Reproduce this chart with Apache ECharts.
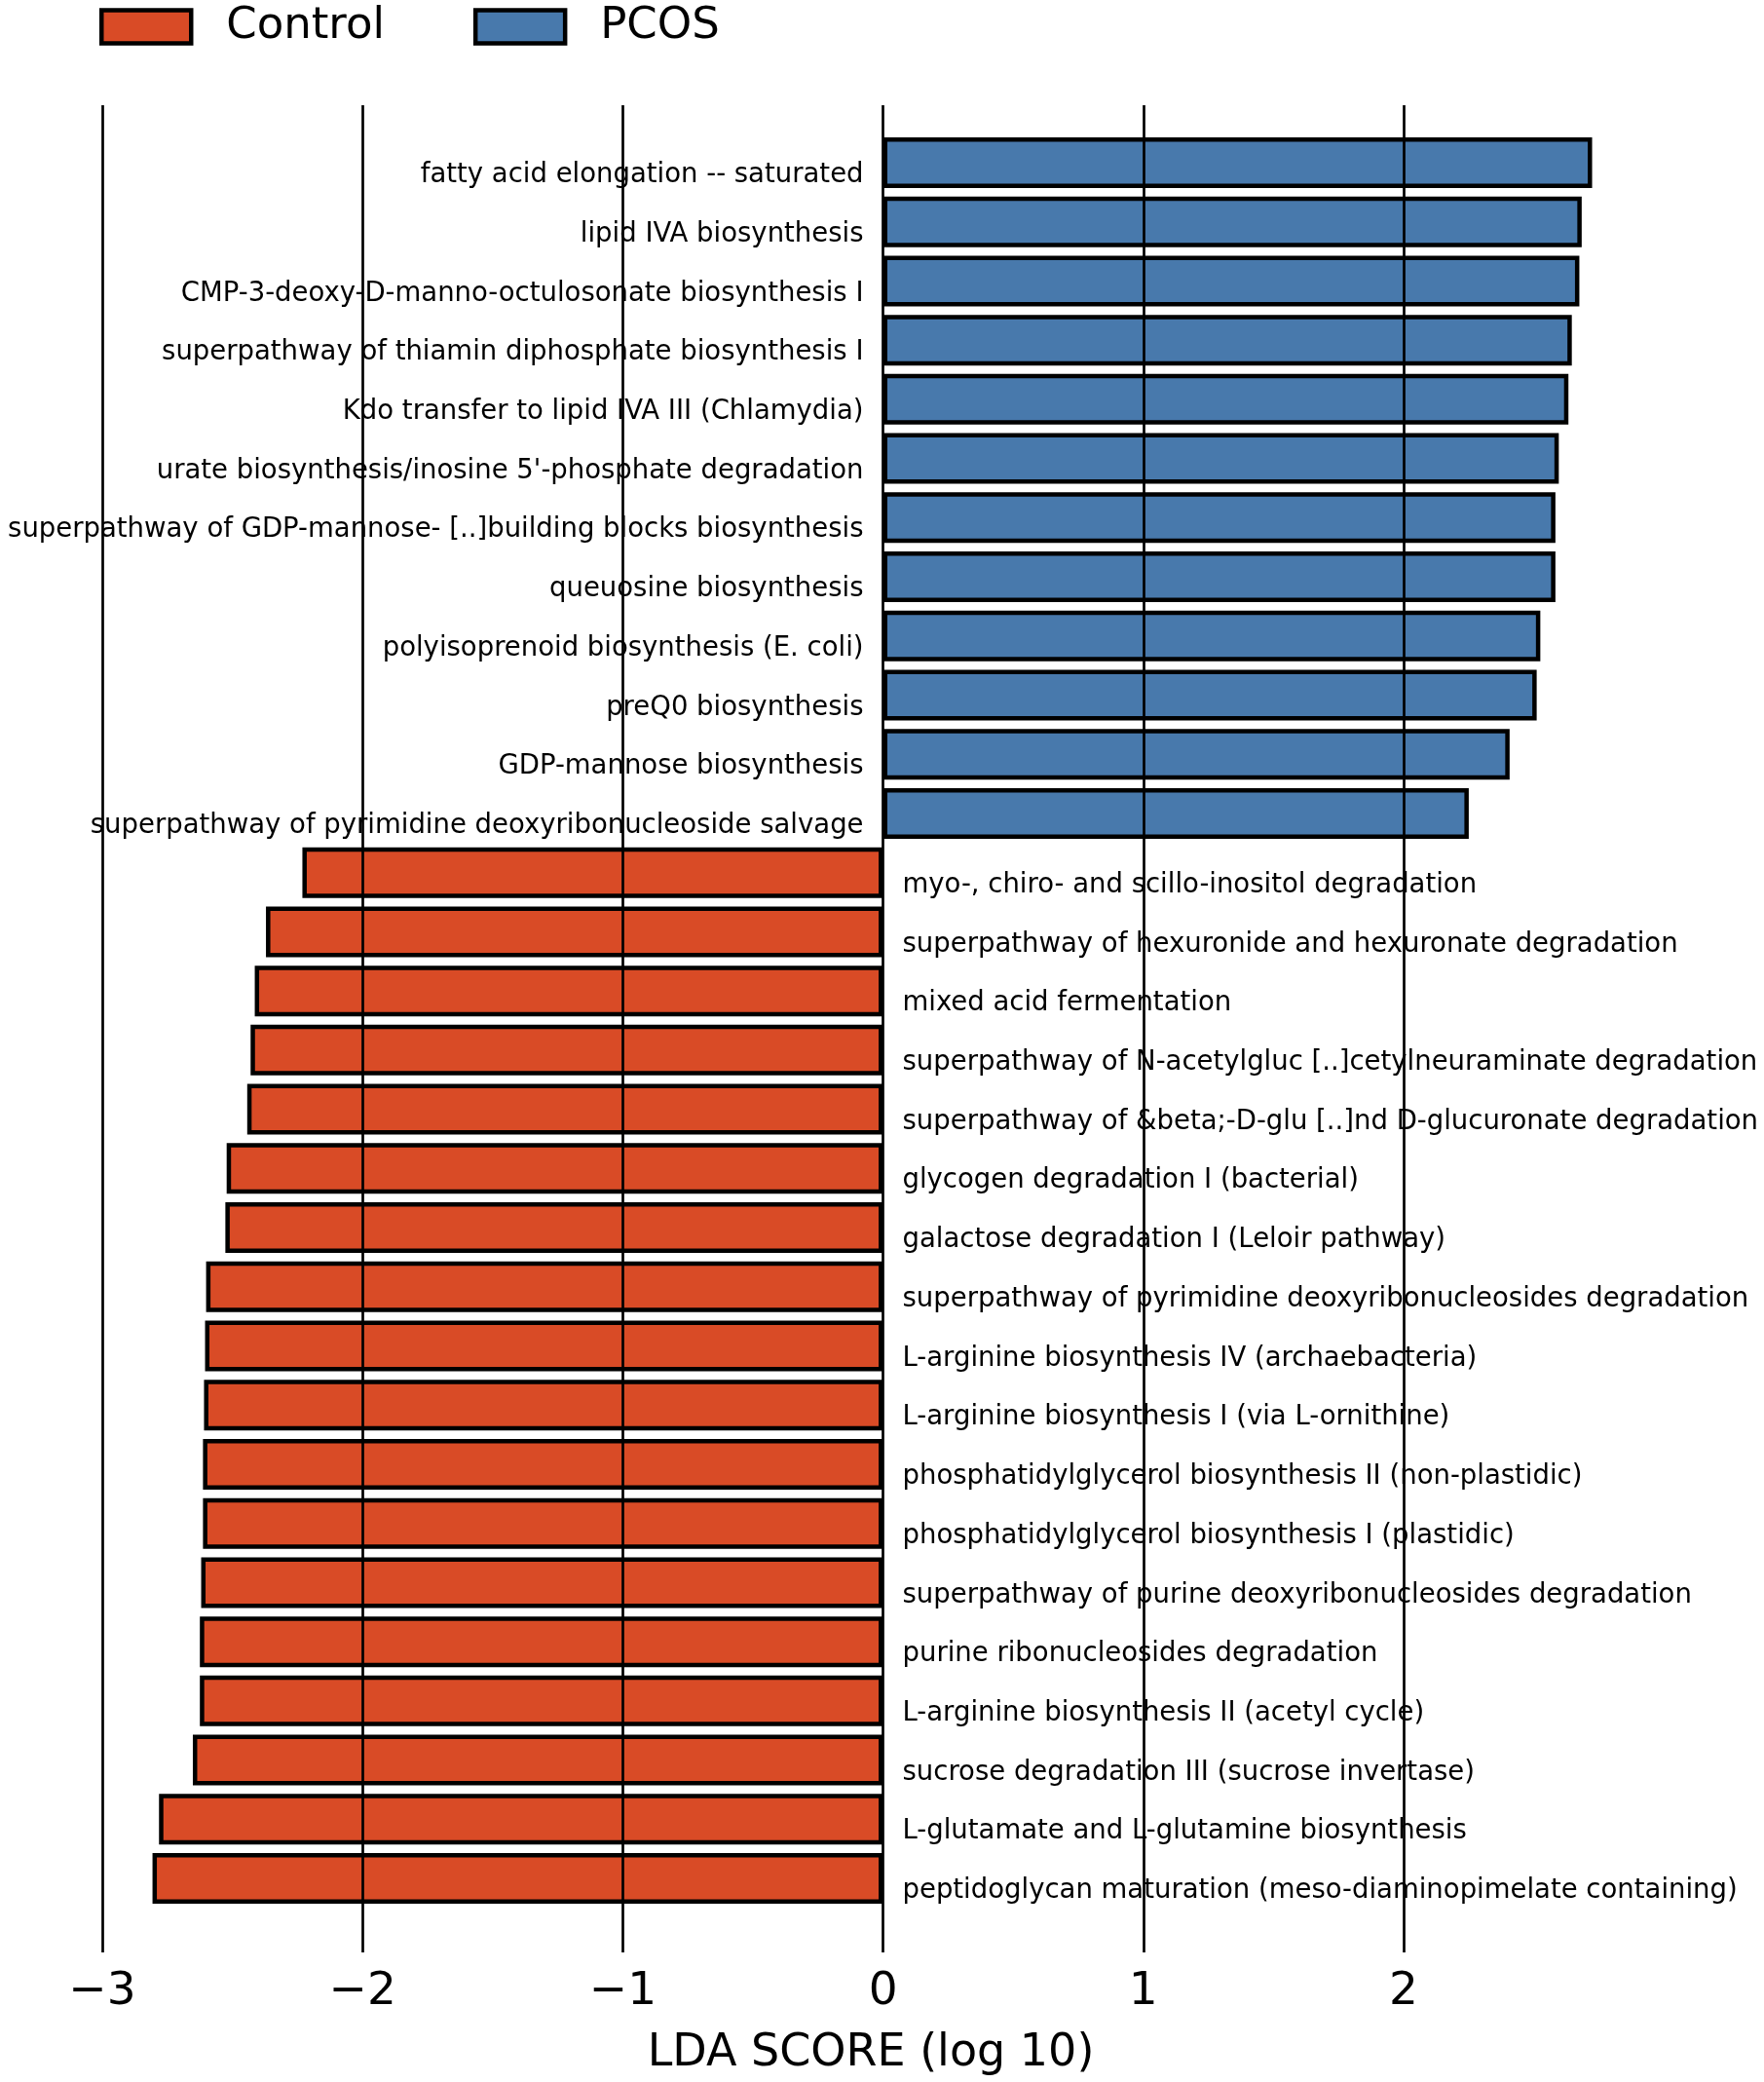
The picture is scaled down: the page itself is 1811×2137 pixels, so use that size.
<!DOCTYPE html>
<html>
<head>
<meta charset="utf-8">
<script src="https://cdn.jsdelivr.net/npm/echarts@6/dist/echarts.min.js"></script>
<style>
html,body{margin:0;padding:0;background:#fff;}
#main{width:1811px;height:2137px;}
</style>
</head>
<body>
<div id="main"></div>
<script>
// ---- data ----
var pcosNames = [
  'fatty acid elongation -- saturated',
  'lipid IVA biosynthesis',
  'CMP-3-deoxy-D-manno-octulosonate biosynthesis I',
  'superpathway of thiamin diphosphate biosynthesis I',
  'Kdo transfer to lipid IVA III (Chlamydia)',
  "urate biosynthesis/inosine 5'-phosphate degradation",
  'superpathway of GDP-mannose- [..]building blocks biosynthesis',
  'queuosine biosynthesis',
  'polyisoprenoid biosynthesis (E. coli)',
  'preQ0 biosynthesis',
  'GDP-mannose biosynthesis',
  'superpathway of pyrimidine deoxyribonucleoside salvage'
];
var pcosValues = [2.725, 2.685, 2.676, 2.647, 2.634, 2.597, 2.584, 2.584, 2.526, 2.512, 2.408, 2.251];

var controlNames = [
  'myo-, chiro- and scillo-inositol degradation',
  'superpathway of hexuronide and hexuronate degradation',
  'mixed acid fermentation',
  'superpathway of N-acetylgluc [..]cetylneuraminate degradation',
  'superpathway of &beta;-D-glu [..]nd D-glucuronate degradation',
  'glycogen degradation I (bacterial)',
  'galactose degradation I (Leloir pathway)',
  'superpathway of pyrimidine deoxyribonucleosides degradation',
  'L-arginine biosynthesis IV (archaebacteria)',
  'L-arginine biosynthesis I (via L-ornithine)',
  'phosphatidylglycerol biosynthesis II (non-plastidic)',
  'phosphatidylglycerol biosynthesis I (plastidic)',
  'superpathway of purine deoxyribonucleosides degradation',
  'purine ribonucleosides degradation',
  'L-arginine biosynthesis II (acetyl cycle)',
  'sucrose degradation III (sucrose invertase)',
  'L-glutamate and L-glutamine biosynthesis',
  'peptidoglycan maturation (meso-diaminopimelate containing)'
];
var controlValues = [-2.231, -2.371, -2.414, -2.430, -2.443, -2.522, -2.527, -2.601, -2.605, -2.609,
  -2.613, -2.613, -2.620, -2.625, -2.625, -2.652, -2.782, -2.807];

var xTicks = [-3, -2, -1, 0, 1, 2];
var axisTitle = 'LDA SCORE (log 10)';
var groupNames = ['Control', 'PCOS'];

// ---- build ----
var categories = pcosNames.concat(controlNames);
var pcosSeries = pcosValues.concat(controlNames.map(function(){return '-';}));
var controlSeries = pcosNames.map(function(){return '-';}).concat(controlValues);

var FONT = 'DejaVu Sans';
var colControl = '#D94B26';
var colPcos = '#4879AC';

var chart = echarts.init(document.getElementById('main'), null, {renderer: 'canvas'});
chart.setOption({
  backgroundColor: '#ffffff',
  animation: false,
  legend: {
    data: groupNames,
    left: 97,
    top: 0,
    itemWidth: 92,
    itemHeight: 34,
    itemGap: 91,
    icon: 'rect',
    itemStyle: {borderColor: '#000', borderWidth: 4.5},
    textStyle: {fontFamily: FONT, fontSize: 45, color: '#000', padding: [0, 0, 0, 31]}
  },
  grid: [
    {left: 105, right: 103, top: 136.6, bottom: 178.6, containLabel: false},
    {left: 105, right: 370, top: 108, bottom: 133, containLabel: false}
  ],
  xAxis: [
    {type: 'value', gridIndex: 0, min: -3, max: 3, show: false},
    {type: 'value', gridIndex: 1, min: xTicks[0], max: xTicks[xTicks.length - 1], interval: 1, z: 10,
      axisLine: {show: false}, axisTick: {show: false},
      splitLine: {show: true, lineStyle: {color: '#000', width: 2.7}},
      axisLabel: {fontFamily: FONT, fontSize: 47, color: '#000', margin: 17,
        formatter: function(v){ return v < 0 ? '\u2212' + Math.abs(v) : String(v); }}
    }
  ],
  yAxis: [
    {type: 'category', gridIndex: 0, data: categories, inverse: true, show: false},
    {type: 'value', gridIndex: 1, show: false}
  ],
  graphic: [
    {type: 'text', z: 20, x: 894, y: 2108,
      style: {text: axisTitle, fontFamily: FONT, fontSize: 46, fill: '#000',
        textAlign: 'center', textVerticalAlign: 'middle'}}
  ],
  series: [
    {
      name: 'Control', type: 'bar', xAxisIndex: 0, yAxisIndex: 0, stack: 'all',
      data: controlSeries, barWidth: 52,
      itemStyle: {color: colControl, borderColor: '#000', borderWidth: 4.5},
      label: {show: true, position: 'right', distance: 20, offset: [0, 13], formatter: '{b}',
        fontFamily: FONT, fontSize: 27.5, color: '#000'}
    },
    {
      name: 'PCOS', type: 'bar', xAxisIndex: 0, yAxisIndex: 0, stack: 'all',
      data: pcosSeries, barWidth: 52,
      itemStyle: {color: colPcos, borderColor: '#000', borderWidth: 4.5},
      label: {show: true, position: 'left', distance: 20, offset: [0, 13], formatter: '{b}',
        fontFamily: FONT, fontSize: 27.5, color: '#000'}
    }
  ]
});
</script>
</body>
</html>
